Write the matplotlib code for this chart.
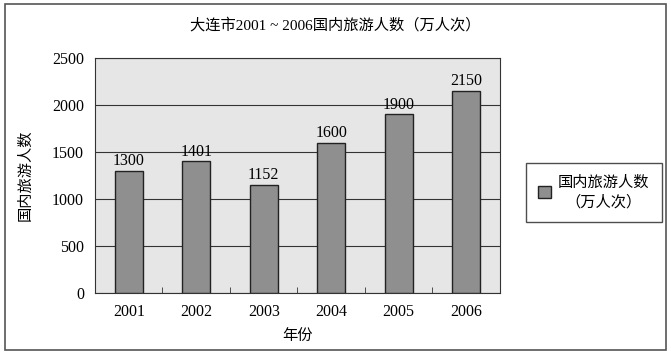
import matplotlib.pyplot as plt
from matplotlib.patches import Rectangle

plt.rcParams['font.family'] = ['Liberation Serif', 'Noto Sans CJK SC']

years = ["2001", "2002", "2003", "2004", "2005", "2006"]
visitors = [1300, 1401, 1152, 1600, 1900, 2150]

fig = plt.figure(figsize=(6.71, 3.54), dpi=100)
ax = fig.add_axes([0.1416, 0.172, 0.6034, 0.664])

# outer frame around whole figure
fig.patches.append(Rectangle((0.008, 0.011), 0.984, 0.978, transform=fig.transFigure,
                             fill=False, edgecolor='#555555', linewidth=1.2))

ax.set_facecolor('#e6e6e6')
x = range(len(years))
bars = ax.bar(x, visitors, width=0.42, color='#8f8f8f', edgecolor='#222222',
              linewidth=1.0, label="国内旅游人数\n（万人次）", zorder=3)

for i in x:
    ax.text(i, visitors[i] + 20, str(visitors[i]), ha="center", va="bottom",
            fontsize=11.5, zorder=4)

ax.set_xlim(-0.5, len(years) - 0.5)
ax.set_ylim(0, 2500)
ax.set_yticks([0, 500, 1000, 1500, 2000, 2500])
ax.yaxis.grid(True, color='#333333', linewidth=0.8, zorder=1)
ax.set_axisbelow(True)
ax.set_xticks(list(x))
ax.set_xticklabels(years, fontsize=11.5)
ax.set_xticks([i + 0.5 for i in range(len(years) - 1)], minor=True)
ax.tick_params(axis='x', which='major', length=0, pad=8)
ax.tick_params(axis='x', which='minor', direction='in', length=4, color='#333333')
ax.tick_params(axis='y', length=0, pad=8, labelsize=11.5)
for s in ax.spines.values():
    s.set_color('#333333')

ax.set_xlabel("年份", fontsize=11, labelpad=6)
ax.set_ylabel("国内旅游人数", fontsize=11, labelpad=14)
fig.text(0.5, 0.93, "大连市2001 ~ 2006国内旅游人数（万人次）", ha='center', va='center',
         fontsize=11)

leg = fig.legend(loc='upper left', bbox_to_anchor=(0.784, 0.54), fancybox=False,
                 edgecolor='#222222', fontsize=11, handlelength=0.8, handleheight=0.8,
                 borderpad=0.8, labelspacing=0.1, handletextpad=0.5,
                 borderaxespad=0)
leg.get_frame().set_linewidth(1.0)
for t in leg.get_texts():
    t.set_multialignment('center')
    t.set_linespacing(1.5)

fig.savefig("out.png", dpi=100)
